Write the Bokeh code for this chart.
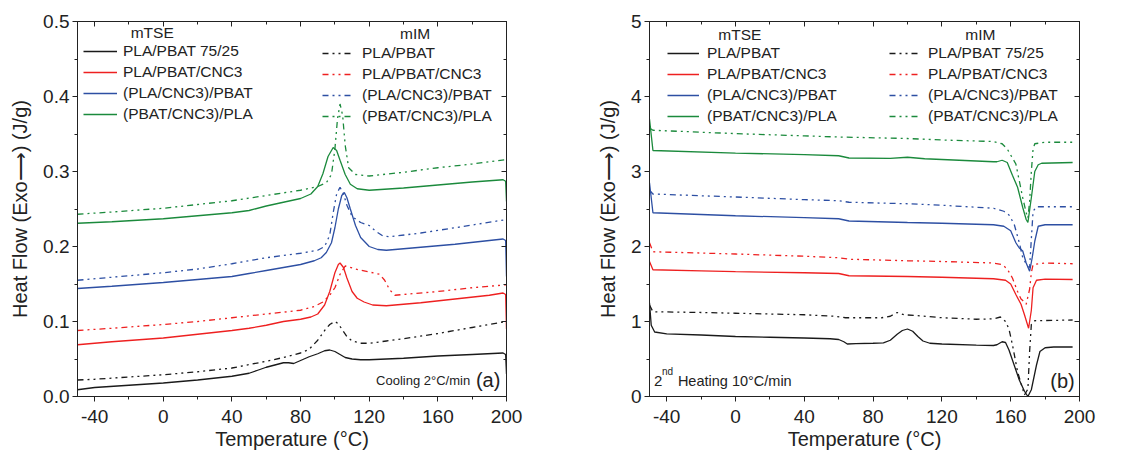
from bokeh.plotting import figure
from bokeh.layouts import row
from bokeh.models import (Range1d, FixedTicker, PrintfTickFormatter, LinearAxis,
                          Legend, LegendItem, Label)
from bokeh.embed import file_html
from bokeh.resources import INLINE

# ---------------- (a) Cooling 2 °C/min ----------------
a_blk_s_x = [-50, -40, -20, 0, 20, 40, 50, 55, 60, 65, 70, 73, 76, 80, 85, 90, 94, 97, 100, 103, 106, 110, 115, 120, 140, 160, 180, 198, 199.5, 200]
a_blk_s_y = [0.009, 0.012, 0.015, 0.018, 0.022, 0.027, 0.031, 0.035, 0.039, 0.042, 0.045, 0.045, 0.044, 0.048, 0.053, 0.057, 0.061, 0.062, 0.060, 0.056, 0.052, 0.050, 0.049, 0.049, 0.051, 0.054, 0.056, 0.058, 0.056, 0.030]

a_blk_d_x = [-50, -40, -20, 0, 20, 40, 60, 70, 80, 85, 90, 94, 97, 100, 102, 104, 107, 110, 115, 120, 130, 140, 160, 180, 200]
a_blk_d_y = [0.022, 0.023, 0.026, 0.029, 0.033, 0.038, 0.047, 0.052, 0.058, 0.063, 0.075, 0.088, 0.096, 0.100, 0.097, 0.090, 0.080, 0.074, 0.071, 0.071, 0.074, 0.077, 0.084, 0.092, 0.100]

a_red_s_x = [-50, -30, 0, 20, 40, 50, 60, 70, 80, 86, 90, 94, 97, 100, 102, 103, 105, 107, 110, 113, 117, 122, 130, 150, 170, 190, 198, 199.5, 200]
a_red_s_y = [0.069, 0.073, 0.078, 0.083, 0.088, 0.091, 0.095, 0.100, 0.103, 0.106, 0.110, 0.122, 0.140, 0.165, 0.176, 0.178, 0.172, 0.158, 0.140, 0.131, 0.126, 0.122, 0.121, 0.125, 0.130, 0.135, 0.138, 0.136, 0.090]

a_red_d_x = [-50, -30, 0, 20, 40, 60, 80, 88, 93, 97, 100, 103, 106, 108, 112, 120, 126, 129, 132, 135, 140, 160, 180, 200]
a_red_d_y = [0.088, 0.091, 0.096, 0.100, 0.105, 0.110, 0.115, 0.120, 0.126, 0.135, 0.145, 0.163, 0.174, 0.173, 0.170, 0.166, 0.163, 0.155, 0.142, 0.135, 0.136, 0.140, 0.145, 0.149]

a_blu_s_x = [-50, -30, 0, 20, 40, 50, 60, 70, 80, 88, 92, 95, 98, 100, 102, 104, 105.5, 107, 109, 112, 115, 120, 125, 130, 150, 170, 190, 198, 199.5, 200]
a_blu_s_y = [0.144, 0.147, 0.152, 0.156, 0.160, 0.164, 0.168, 0.172, 0.176, 0.181, 0.185, 0.192, 0.205, 0.225, 0.250, 0.268, 0.272, 0.265, 0.250, 0.228, 0.212, 0.200, 0.196, 0.195, 0.199, 0.203, 0.208, 0.210, 0.208, 0.160]

a_blu_d_x = [-50, -30, 0, 20, 40, 60, 80, 90, 94, 97, 99, 101, 103, 105, 107, 110, 115, 120, 124, 128, 132, 150, 170, 200]
a_blu_d_y = [0.155, 0.159, 0.165, 0.170, 0.177, 0.185, 0.191, 0.195, 0.200, 0.215, 0.245, 0.270, 0.279, 0.270, 0.255, 0.240, 0.232, 0.228, 0.220, 0.214, 0.213, 0.218, 0.225, 0.236]

a_grn_s_x = [-50, -30, 0, 20, 40, 50, 60, 70, 80, 86, 90, 93, 96, 99, 101, 103, 106, 109, 113, 120, 140, 160, 180, 198, 199.5, 200]
a_grn_s_y = [0.231, 0.233, 0.237, 0.241, 0.245, 0.248, 0.254, 0.259, 0.264, 0.270, 0.280, 0.297, 0.320, 0.332, 0.328, 0.315, 0.296, 0.283, 0.277, 0.275, 0.278, 0.282, 0.286, 0.289, 0.287, 0.260]

a_grn_d_x = [-50, -30, 0, 20, 40, 60, 80, 90, 95, 98, 100, 101.5, 103, 104.5, 106, 108, 112, 120, 140, 160, 180, 200]
a_grn_d_y = [0.243, 0.246, 0.251, 0.256, 0.261, 0.268, 0.275, 0.280, 0.285, 0.296, 0.330, 0.370, 0.390, 0.375, 0.335, 0.305, 0.296, 0.294, 0.299, 0.305, 0.310, 0.316]

# ---------------- (b) 2nd Heating 10 °C/min ----------------
b_blk_s_x = [-50, -49, -47, -40, -20, 0, 20, 40, 55, 60, 63, 65, 70, 80, 86, 90, 94, 97, 100, 103, 106, 109, 113, 120, 140, 150, 152, 155, 157, 159, 162, 165, 168, 170, 172, 175, 177, 180, 185, 196]
b_blk_s_y = [1.25, 0.95, 0.86, 0.835, 0.82, 0.80, 0.79, 0.78, 0.77, 0.76, 0.73, 0.70, 0.705, 0.71, 0.715, 0.75, 0.83, 0.88, 0.90, 0.87, 0.80, 0.74, 0.71, 0.70, 0.685, 0.68, 0.69, 0.73, 0.72, 0.62, 0.42, 0.22, 0.07, 0.0, 0.09, 0.42, 0.60, 0.65, 0.66, 0.66]

b_blk_d_x = [-50, -48, -20, 0, 40, 58, 64, 85, 90, 94, 98, 105, 120, 140, 150, 154, 157, 159, 161, 164, 168, 170, 171, 172, 174, 196]
b_blk_d_y = [1.22, 1.13, 1.12, 1.11, 1.09, 1.07, 1.05, 1.05, 1.07, 1.12, 1.09, 1.08, 1.05, 1.03, 1.035, 1.06, 1.00, 0.90, 0.69, 0.33, 0.02, 0.10, 0.60, 0.96, 1.01, 1.02]

b_red_s_x = [-50, -48, -20, 0, 40, 60, 66, 100, 120, 150, 157, 160, 163, 166, 168, 170.4, 172, 173, 175, 180, 196]
b_red_s_y = [1.80, 1.69, 1.675, 1.665, 1.65, 1.64, 1.61, 1.60, 1.59, 1.57, 1.55, 1.50, 1.36, 1.23, 1.09, 0.91, 1.15, 1.45, 1.55, 1.565, 1.56]

b_red_d_x = [-50, -48, 0, 40, 60, 66, 100, 120, 150, 155, 158, 161, 164, 166, 167, 169, 171, 172, 173, 180, 196]
b_red_d_y = [2.05, 1.93, 1.90, 1.87, 1.85, 1.83, 1.81, 1.80, 1.78, 1.76, 1.70, 1.58, 1.40, 1.30, 1.28, 1.23, 1.43, 1.65, 1.76, 1.78, 1.77]

b_blu_s_x = [-50, -48, 0, 40, 60, 66, 100, 120, 150, 156, 160, 163, 165, 167, 169, 171, 172.5, 174, 176, 180, 196]
b_blu_s_y = [2.85, 2.45, 2.41, 2.385, 2.37, 2.34, 2.32, 2.31, 2.29, 2.27, 2.21, 2.05, 1.98, 1.94, 1.78, 1.67, 1.85, 2.07, 2.27, 2.29, 2.29]

b_blu_d_x = [-50, -48, 0, 40, 60, 66, 100, 120, 150, 156, 159, 162, 165, 167, 170, 171, 172, 173, 175, 196]
b_blu_d_y = [2.75, 2.70, 2.66, 2.625, 2.61, 2.59, 2.57, 2.55, 2.51, 2.47, 2.42, 2.30, 2.05, 1.85, 1.73, 1.72, 2.10, 2.47, 2.53, 2.53]

b_grn_s_x = [-50, -48, 0, 40, 60, 66, 90, 100, 110, 120, 150, 152, 155, 158, 161, 164, 167, 169, 170, 172, 174, 176, 178, 196]
b_grn_s_y = [3.70, 3.28, 3.245, 3.225, 3.21, 3.18, 3.175, 3.19, 3.17, 3.16, 3.13, 3.13, 3.15, 3.12, 2.95, 2.79, 2.52, 2.36, 2.32, 2.65, 3.00, 3.09, 3.11, 3.12]

b_grn_d_x = [-50, -48, 0, 40, 60, 100, 120, 150, 155, 158, 163, 167, 169, 170, 171, 172, 173, 174, 180, 196]
b_grn_d_y = [3.58, 3.55, 3.505, 3.475, 3.46, 3.44, 3.42, 3.40, 3.37, 3.30, 3.10, 2.65, 2.45, 2.38, 2.60, 3.00, 3.30, 3.37, 3.39, 3.39]

a_tse_labels = ["PLA/PBAT 75/25", "PLA/PBAT/CNC3", "(PLA/CNC3)/PBAT", "(PBAT/CNC3)/PLA"]
a_mim_labels = ["PLA/PBAT", "PLA/PBAT/CNC3", "(PLA/CNC3)/PBAT", "(PBAT/CNC3)/PLA"]
b_tse_labels = ["PLA/PBAT", "PLA/PBAT/CNC3", "(PLA/CNC3)/PBAT", "(PBAT/CNC3)/PLA"]
b_mim_labels = ["PLA/PBAT 75/25", "PLA/PBAT/CNC3", "(PLA/CNC3)/PBAT", "(PBAT/CNC3)/PLA"]

x_ticks = [-40, 0, 40, 80, 120, 160, 200]
x_minor = [-40, -20, 0, 20, 40, 60, 80, 100, 120, 140, 160, 180, 200]
a_y_ticks = [0.0, 0.1, 0.2, 0.3, 0.4, 0.5]
a_y_minor = [0.0, 0.05, 0.1, 0.15, 0.2, 0.25, 0.3, 0.35, 0.4, 0.45, 0.5]
b_y_ticks = [0, 1, 2, 3, 4, 5]
b_y_minor = [0, 0.5, 1, 1.5, 2, 2.5, 3, 3.5, 4, 4.5, 5]

COLORS = ["#1a1a1a", "#ee2020", "#2d4fa3", "#1b8a3c"]
DASH = "6 4 2 4 2 4"
FONT = "Liberation Sans"
INK = "#222222"


def style_axes(p, xt, xm, yt, ym, yfmt):
    p.xaxis.ticker = FixedTicker(ticks=xt, minor_ticks=xm)
    p.yaxis.ticker = FixedTicker(ticks=yt, minor_ticks=ym)
    p.xaxis.formatter = PrintfTickFormatter(format="%d")
    p.yaxis.formatter = PrintfTickFormatter(format=yfmt)
    for ax in (p.xaxis[0], p.yaxis[0]):
        ax.major_label_text_font = FONT
        ax.major_label_text_font_size = "19px"
        ax.major_label_text_color = INK
        ax.axis_label_text_font = FONT
        ax.axis_label_text_font_size = "20px"
        ax.axis_label_text_font_style = "normal"
        ax.axis_label_text_color = INK
        ax.axis_line_color = INK
        ax.major_tick_line_color = INK
        ax.minor_tick_line_color = INK
        ax.major_tick_out = 5
        ax.major_tick_in = 0
        ax.minor_tick_out = 3
        ax.minor_tick_in = 0
    p.xaxis.major_label_standoff = 8
    p.yaxis.major_label_standoff = 3
    p.xaxis.axis_label = "Temperature (°C)"
    p.yaxis.axis_label = "Heat Flow (Exo⟶) (J/g)"
    p.xaxis.axis_label_standoff = 2
    p.yaxis.axis_label_standoff = 9
    common = dict(major_label_text_font_size="1px", major_label_text_color=None, major_label_standoff=0,
                  major_tick_in=5, major_tick_out=0, minor_tick_in=3, minor_tick_out=0,
                  axis_line_color=INK, major_tick_line_color=INK, minor_tick_line_color=INK)
    top = LinearAxis(ticker=FixedTicker(ticks=xt, minor_ticks=xm), **common)
    right = LinearAxis(ticker=FixedTicker(ticks=yt, minor_ticks=ym), **common)
    p.add_layout(top, "above")
    p.add_layout(right, "right")
    p.xgrid.visible = False
    p.ygrid.visible = False
    p.outline_line_color = INK


def make_legend(items, loc, gw, standoff):
    return Legend(items=items, location=loc, glyph_width=gw, glyph_height=20, label_height=20,
                  spacing=1, padding=0, margin=0, border_line_color=None, background_fill_alpha=0,
                  label_text_font=FONT, label_text_font_size="15.5px", label_text_color=INK,
                  label_standoff=standoff)


def header(p, x, y, text):
    p.add_layout(Label(x=x, y=y, text=text, text_font=FONT, text_font_size="15.5px",
                       text_color=INK, text_baseline="middle"))


# ----- figure (a)
pa = figure(width=570, height=456, x_range=Range1d(-50, 200), y_range=Range1d(0, 0.5),
            output_backend="svg", toolbar_location=None,
            min_border_left=77, min_border_right=64, min_border_top=21, min_border_bottom=60)
style_axes(pa, x_ticks, x_minor, a_y_ticks, a_y_minor, "%.1f")

a_solid = [(a_blk_s_x, a_blk_s_y), (a_red_s_x, a_red_s_y), (a_blu_s_x, a_blu_s_y), (a_grn_s_x, a_grn_s_y)]
a_dash = [(a_blk_d_x, a_blk_d_y), (a_red_d_x, a_red_d_y), (a_blu_d_x, a_blu_d_y), (a_grn_d_x, a_grn_d_y)]
a_items_s, a_items_d = [], []
for (xs, ys), c, lab in zip(a_solid, COLORS, a_tse_labels):
    r = pa.line(xs, ys, line_color=c, line_width=1.3)
    a_items_s.append(LegendItem(label=lab, renderers=[r]))
for (xs, ys), c, lab in zip(a_dash, COLORS, a_mim_labels):
    r = pa.line(xs, ys, line_color=c, line_width=1.3, line_dash=DASH)
    a_items_d.append(LegendItem(label=lab, renderers=[r]))
pa.add_layout(make_legend(a_items_s, (6, 272), 34, 6))
pa.add_layout(make_legend(a_items_d, (245, 270), 32, 8))
header(pa, -19, 0.485, "mTSE")
header(pa, 138, 0.484, "mIM")
pa.add_layout(Label(x=178.8, y=0.0215, text="Cooling 2°C/min", text_font=FONT, text_font_size="13px",
                    text_color=INK, text_align="right", text_baseline="middle"))
pa.add_layout(Label(x=196.4, y=0.0215, text="(a)", text_font=FONT, text_font_size="20px",
                    text_color=INK, text_align="right", text_baseline="middle"))

# ----- figure (b)
pb = figure(width=560, height=456, x_range=Range1d(-50, 200), y_range=Range1d(0, 5),
            output_backend="svg", toolbar_location=None,
            min_border_left=79, min_border_right=51, min_border_top=21, min_border_bottom=60)
style_axes(pb, x_ticks, x_minor, b_y_ticks, b_y_minor, "%d")

b_solid = [(b_blk_s_x, b_blk_s_y), (b_red_s_x, b_red_s_y), (b_blu_s_x, b_blu_s_y), (b_grn_s_x, b_grn_s_y)]
b_dash = [(b_blk_d_x, b_blk_d_y), (b_red_d_x, b_red_d_y), (b_blu_d_x, b_blu_d_y), (b_grn_d_x, b_grn_d_y)]
b_items_s, b_items_d = [], []
for (xs, ys), c, lab in zip(b_solid, COLORS, b_tse_labels):
    r = pb.line(xs, ys, line_color=c, line_width=1.3)
    b_items_s.append(LegendItem(label=lab, renderers=[r]))
for (xs, ys), c, lab in zip(b_dash, COLORS, b_mim_labels):
    r = pb.line(xs, ys, line_color=c, line_width=1.3, line_dash=DASH)
    b_items_d.append(LegendItem(label=lab, renderers=[r]))
pb.add_layout(make_legend(b_items_s, (18, 270), 32, 8))
pb.add_layout(make_legend(b_items_d, (240, 270), 32, 7))
header(pb, -10, 4.83, "mTSE")
header(pb, 133.6, 4.83, "mIM")
pb.add_layout(Label(x=-47.4, y=0.21, text="2", text_font=FONT, text_font_size="15px",
                    text_color=INK, text_baseline="middle"))
pb.add_layout(Label(x=-42.8, y=0.33, text="nd", text_font=FONT, text_font_size="10px",
                    text_color=INK, text_baseline="middle"))
pb.add_layout(Label(x=-33.5, y=0.21, text="Heating 10°C/min", text_font=FONT, text_font_size="14.5px",
                    text_color=INK, text_baseline="middle"))
pb.add_layout(Label(x=197.2, y=0.21, text="(b)", text_font=FONT, text_font_size="20px",
                    text_color=INK, text_align="right", text_baseline="middle"))

layout = row(pa, pb)
open("out.html", "w").write(file_html(layout, INLINE))
